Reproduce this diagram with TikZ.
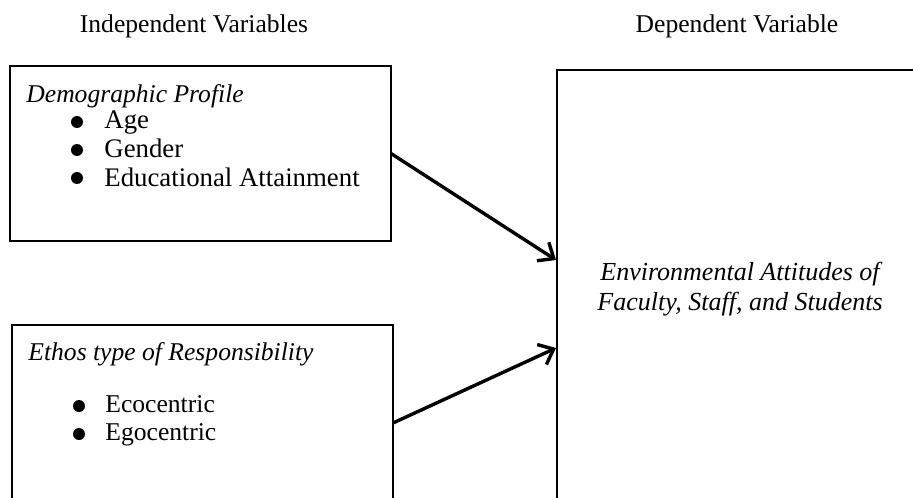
\documentclass[tikz,border=0pt]{standalone}
\usepackage{fontspec}
\setmainfont{Liberation Serif}
\usetikzlibrary{arrows.meta}
\begin{document}
\begin{tikzpicture}[x=0.5pt,y=-0.5pt,
  box/.style={draw=black,line width=1.1pt,inner sep=0pt,outer sep=0pt},
  head/.style={font=\fontsize{12.8}{15}\selectfont,anchor=base,inner sep=0pt},
  txt/.style={font=\fontsize{12.8}{15}\selectfont,anchor=base west,inner sep=0pt},
  big/.style={font=\fontsize{13.4}{16}\selectfont,anchor=base west,inner sep=0pt},
  bul/.style={circle,fill=black,inner sep=0pt,minimum size=6pt},
  conn/.style={line width=1.7pt,-{Straight Barb[length=6.5pt,width=11pt,line width=1.7pt]}}]
\useasboundingbox (0,0) rectangle (913,497);
\clip (0,0) rectangle (913,497);
\node[head] (hi) at (194,33) {Independent Variables};
\node[head] (hd) at (737,33) {Dependent Variable};
% boxes
\node[box,minimum width=190.5pt,minimum height=87.5pt] (b1) at (200.5,153.5) {};
\node[box,minimum width=190.5pt,minimum height=98pt] (b2) at (202.5,423) {};
\node[box,minimum width=191.5pt,minimum height=235pt] (dvb) at (748.5,305) {};
\coordinate (e1) at (556,260);
\coordinate (e2) at (556,348);
% texts
\node[txt] (t1) at (26,103) {\itshape Demographic Profile};
\node[bul] (d1) at (77,122) {};
\node[big] (a1) at (104,129) {Age};
\node[bul] (d2) at (77,150) {};
\node[big] (a2) at (104,157) {Gender};
\node[bul] (d3) at (77,178) {};
\node[big] (a3) at (104,186) {Educational Attainment};
\node[txt] (t2) at (28,360) {\itshape Ethos type of Responsibility};
\node[bul] (d4) at (79,406) {};
\node[txt] (e1t) at (105,412) {Ecocentric};
\node[bul] (d5) at (79,434) {};
\node[txt] (e2t) at (105,440) {Egocentric};
\node[font=\fontsize{13}{15}\selectfont\itshape,align=center,anchor=base] (dv) at (740,310) {Environmental Attitudes of\\Faculty, Staff, and Students};
% connectors
\draw[conn] (b1.east) -- (e1);
\draw[conn] (b2.east) -- (e2);
\end{tikzpicture}
\end{document}
